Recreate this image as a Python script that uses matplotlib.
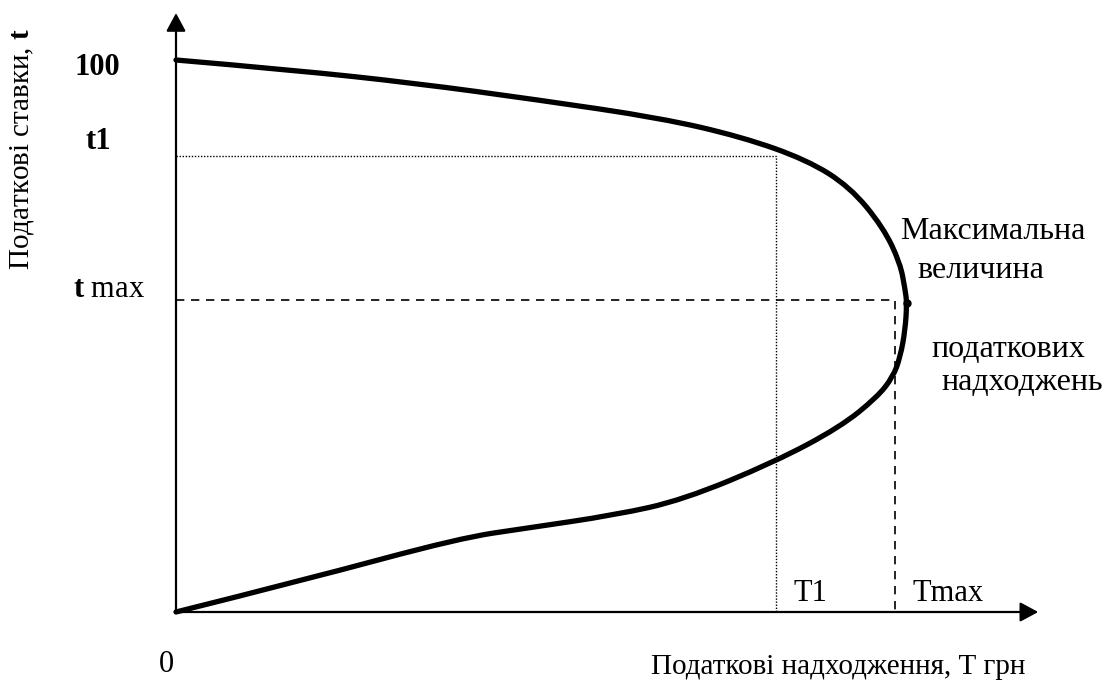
import numpy as np
import matplotlib
matplotlib.use("Agg")
import matplotlib.pyplot as plt
from matplotlib.path import Path
from matplotlib.patches import PathPatch

plt.rcParams['font.family'] = ['Liberation Serif', 'DejaVu Serif']
plt.rcParams['mathtext.fontset'] = 'custom'
plt.rcParams['mathtext.rm'] = 'Liberation Serif'
plt.rcParams['mathtext.bf'] = 'Liberation Serif:bold'

# Laffer curve (T = revenue, t = rate, 100 = top)
revenue = [0, 21.0, 43.3, 65.4, 87.7, 102.4, 114.3, 122.1, 128.1, 131.2, 132.1, 132.4,
           132.1, 131.2, 129.9, 127.0, 120.3, 108.5, 91.8, 79.7, 63.6, 51.4, 23.2, 0]
rate = [100, 98.2, 95.8, 92.8, 89.5, 86.1, 81.9, 77.0, 69.7, 63.2, 58.3, 56.0,
        51.1, 46.2, 42.6, 38.9, 33.5, 27.2, 20.3, 17.6, 15.2, 13.4, 5.8, 0]

t1, T1 = 82.6, 108.7
t_max, T_max = 56.5, 130.3
peak = (132.4, 56.0)
x_end, y_end = 156.2, 108.5

s = 5.52
fig = plt.figure(figsize=(11.07, 6.82), dpi=100)
ax = fig.add_axes([0, 0, 1, 1])
ax.set_xlim(-176 / s, (1107 - 176) / s)
ax.set_ylim(-(682 - 612) / s, 612 / s)
ax.axis('off')

# axes with arrows
arrow = dict(arrowstyle='-|>,head_length=0.5,head_width=0.27', color='black', lw=1.6,
             mutation_scale=22, shrinkA=0, shrinkB=0)
ax.annotate('', xy=(x_end, 0), xytext=(0, 0), arrowprops=arrow)
ax.annotate('', xy=(0, y_end), xytext=(0, 0), arrowprops=arrow)

# smooth curve: quadratic beziers through midpoints
pts = np.column_stack([revenue, rate])
verts = [pts[0]]
codes = [Path.MOVETO]
for i in range(1, len(pts) - 1):
    mid = (pts[i] + pts[i + 1]) / 2
    if i == len(pts) - 2:
        mid = pts[i + 1]
    verts += [pts[i], mid]
    codes += [Path.CURVE3, Path.CURVE3]
ax.add_patch(PathPatch(Path(verts, codes), fill=False, lw=3.8, color='black',
                       capstyle='round', joinstyle='round'))
ax.plot(*peak, 'o', color='black', ms=5)

# guide lines
ax.plot([0, T1, T1], [t1, t1, 0], color='black', lw=1, linestyle=(0, (1, 1.2)))
ax.plot([0, T_max, T_max], [t_max, t_max, 0], color='black', lw=1.2, linestyle=(0, (5, 4)))

fs = 22
ax.text(-14.3, 98.7, '100', fontsize=fs, fontweight='bold', ha='center', va='center')
ax.text(-14.1, 85.3, 't1', fontsize=fs, fontweight='bold', ha='center', va='center')
ax.text(-18.7, 57.1, r'$\mathbf{t}$ max', fontsize=fs, ha='left', va='baseline')
ax.text(-27.9, 83.9, r'Податкові ставки, $\mathbf{t}$', fontsize=21, rotation=90,
        ha='center', va='center')
ax.text(-1.8, -9.6, '0', fontsize=fs, ha='center', va='center')
ax.text(119.9, -10.0, 'Податкові надходження, Т грн', fontsize=21, ha='center', va='center')
ax.text(115.0, 3.4, 'T1', fontsize=fs, ha='center', va='center')
ax.text(139.9, 3.4, 'Tmax', fontsize=fs, ha='center', va='center')
ax.text(131.2, 68.9, 'Максимальна', fontsize=23, ha='left', va='center')
ax.text(134.3, 61.8, 'величина', fontsize=23, ha='left', va='center')
ax.text(136.8, 47.6, 'податкових', fontsize=23, ha='left', va='center')
ax.text(138.6, 41.6, 'надходжень', fontsize=23, ha='left', va='center')

fig.savefig('out.png', dpi=100)
